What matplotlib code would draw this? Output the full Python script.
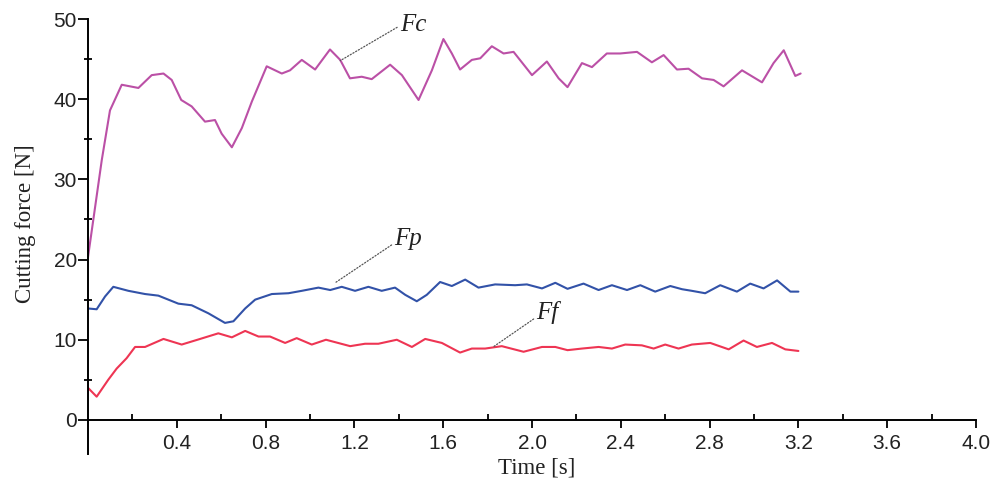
import matplotlib
matplotlib.use("Agg")
import matplotlib.pyplot as plt
import numpy as np

# ---------------- data ----------------
fc_t = [0.0, 0.062, 0.099, 0.152, 0.227, 0.287, 0.34, 0.377, 0.42, 0.467, 0.527, 0.572,
        0.602, 0.648, 0.693, 0.738, 0.805, 0.873, 0.91, 0.963, 1.023, 1.09, 1.136, 1.18,
        1.233, 1.278, 1.361, 1.414, 1.489, 1.549, 1.601, 1.639, 1.676, 1.729, 1.767, 1.819,
        1.872, 1.917, 2.0, 2.067, 2.12, 2.16, 2.225, 2.27, 2.337, 2.397, 2.473, 2.54, 2.593,
        2.653, 2.705, 2.766, 2.818, 2.863, 2.946, 3.036, 3.088, 3.134, 3.186, 3.21]
fc_v = [20.3, 32.4, 38.6, 41.8, 41.4, 43.0, 43.2, 42.4, 39.9, 39.1, 37.2, 37.4,
        35.7, 34.0, 36.4, 39.7, 44.1, 43.2, 43.6, 44.9, 43.7, 46.2, 44.9, 42.6,
        42.8, 42.5, 44.3, 43.0, 39.9, 43.6, 47.5, 45.7, 43.7, 44.9, 45.1, 46.6,
        45.7, 45.9, 43.0, 44.7, 42.6, 41.5, 44.5, 44.0, 45.7, 45.7, 45.9, 44.6, 45.5,
        43.7, 43.8, 42.6, 42.4, 41.6, 43.6, 42.1, 44.5, 46.1, 42.9, 43.2]

fp_t = [0.0, 0.039, 0.077, 0.114, 0.182, 0.257, 0.317, 0.407, 0.467, 0.542, 0.617, 0.655,
        0.708, 0.753, 0.828, 0.903, 0.963, 1.038, 1.091, 1.143, 1.203, 1.263, 1.323, 1.383,
        1.429, 1.481, 1.526, 1.586, 1.639, 1.699, 1.759, 1.834, 1.924, 1.977, 2.045, 2.105,
        2.16, 2.232, 2.3, 2.36, 2.428, 2.488, 2.555, 2.623, 2.676, 2.72, 2.78, 2.848, 2.923,
        2.983, 3.043, 3.104, 3.164, 3.2]
fp_v = [13.9, 13.8, 15.4, 16.6, 16.1, 15.7, 15.5, 14.5, 14.3, 13.3, 12.1, 12.3,
        13.9, 15.0, 15.7, 15.8, 16.1, 16.5, 16.2, 16.6, 16.1, 16.6, 16.1, 16.5,
        15.6, 14.8, 15.6, 17.2, 16.7, 17.5, 16.5, 16.9, 16.8, 16.9, 16.4, 17.1,
        16.35, 17.0, 16.2, 16.8, 16.2, 16.8, 16.0, 16.7, 16.3, 16.1, 15.8, 16.8, 16.0,
        17.0, 16.4, 17.4, 16.0, 16.0]

ff_t = [0.0, 0.039, 0.091, 0.129, 0.174, 0.212, 0.257, 0.34, 0.422, 0.505, 0.587, 0.648,
        0.708, 0.768, 0.82, 0.888, 0.94, 1.008, 1.072, 1.181, 1.248, 1.308, 1.391, 1.459,
        1.519, 1.594, 1.676, 1.729, 1.789, 1.864, 1.962, 2.045, 2.105, 2.16, 2.225, 2.3,
        2.36, 2.42, 2.495, 2.548, 2.6, 2.66, 2.72, 2.803, 2.886, 2.953, 3.013, 3.081, 3.141, 3.2]
ff_v = [4.0, 2.9, 5.0, 6.4, 7.7, 9.1, 9.1, 10.1, 9.4, 10.1, 10.8, 10.3,
        11.1, 10.4, 10.4, 9.6, 10.2, 9.4, 10.0, 9.2, 9.5, 9.5, 10.0, 9.1,
        10.1, 9.6, 8.4, 8.9, 8.9, 9.2, 8.5, 9.1, 9.1, 8.7, 8.9, 9.1,
        8.9, 9.4, 9.3, 8.9, 9.4, 8.9, 9.4, 9.6, 8.8, 9.9, 9.1, 9.6, 8.8, 8.6]

x_ticks = [0.4, 0.8, 1.2, 1.6, 2.0, 2.4, 2.8, 3.2, 3.6, 4.0]
x_ticklabels = ["0.4", "0.8", "1.2", "1.6", "2.0", "2.4", "2.8", "3.2", "3.6", "4.0"]
y_ticks = [0, 10, 20, 30, 40, 50]
y_ticklabels = ["0", "10", "20", "30", "40", "50"]

# ---------------- figure ----------------
W, H = 996, 487
fig = plt.figure(figsize=(W / 100, H / 100), dpi=100)
ax = fig.add_axes([88 / W, 1 - 453.6 / H, (976 - 88) / W, (453.6 - 19) / H])

c_fc = "#bb50a6"
c_fp = "#3252a8"
c_ff = "#ee3553"
lw = 1.5
ax.plot(fc_t, fc_v, color=c_fc, lw=lw, solid_joinstyle="round", solid_capstyle="round")
ax.plot(fp_t, fp_v, color=c_fp, lw=lw, solid_joinstyle="round", solid_capstyle="round")
ax.plot(ff_t, ff_v, color=c_ff, lw=lw, solid_joinstyle="round", solid_capstyle="round")

ax.set_xlim(0, 4.0)
ax.set_ylim(-4.2, 50)

for s in ("top", "right"):
    ax.spines[s].set_visible(False)
ax.spines["bottom"].set_position(("data", 0))
ax.spines["left"].set_linewidth(1.4)
ax.spines["bottom"].set_linewidth(1.4)

ax.set_xticks(x_ticks)
ax.set_xticklabels(x_ticklabels)
ax.set_xticks(np.arange(0.2, 4.0, 0.4), minor=True)
ax.set_yticks(y_ticks)
ax.set_yticklabels(y_ticklabels)
ax.set_yticks([5, 15, 25, 35, 45], minor=True)

tick_font = dict(family="Liberation Sans", size=15)
for lab in ax.get_xticklabels() + ax.get_yticklabels():
    lab.set_fontfamily("Liberation Sans")
    lab.set_fontsize(15)
    lab.set_color("#222222")
ax.tick_params(axis="x", which="major", direction="out", length=6, width=1.3, pad=4)
ax.tick_params(axis="x", which="minor", direction="in", length=4, width=1.3)
ax.tick_params(axis="y", which="major", direction="out", length=7, width=1.3, pad=1)
ax.tick_params(axis="y", which="minor", direction="inout", length=6, width=1.3)

serif = ["Liberation Serif", "DejaVu Serif"]
fig.text(25 / W, 1 - 224 / H, "Cutting force [N]", rotation=90, ha="center", va="center",
         family=serif, fontsize=16.5, color="#222222")
fig.text(536.5 / W, 1 - 468 / H, "Time [s]", ha="center", va="center",
         family=serif, fontsize=16.5, color="#222222")

ann = dict(arrowstyle="-", linestyle=(0, (1, 1.5)), color="#555555", lw=0.9,
           shrinkA=0, shrinkB=0)
ax.annotate("Fc", xy=(1.136, 44.8), xytext=(1.405, 49.3), family=serif, style="italic",
            fontsize=18, ha="left", va="center", color="#222222",
            arrowprops=dict(ann, relpos=(0, 0.45)))
ax.annotate("Fp", xy=(1.113, 17.1), xytext=(1.38, 22.6), family=serif, style="italic",
            fontsize=18, ha="left", va="center", color="#222222",
            arrowprops=dict(ann, relpos=(0, 0.3)))
ax.annotate("Ff", xy=(1.827, 9.14), xytext=(2.02, 13.4), family=serif, style="italic",
            fontsize=18, ha="left", va="center", color="#222222",
            arrowprops=dict(ann, relpos=(0, 0.3)))

fig.savefig("out.png", dpi=100)
